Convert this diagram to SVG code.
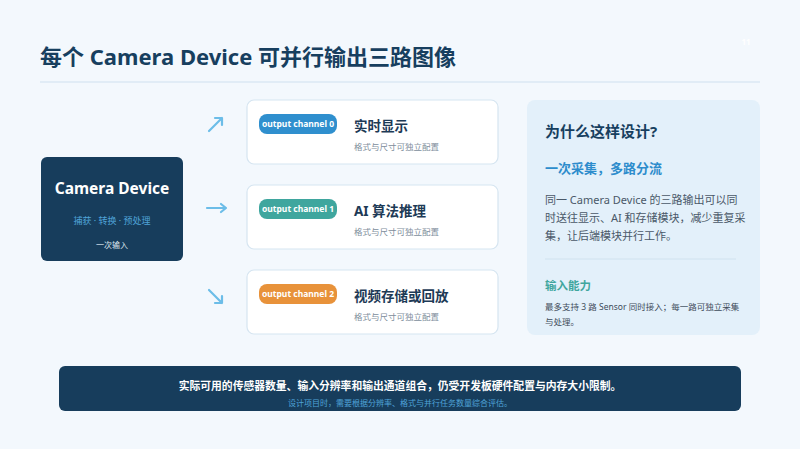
<svg xmlns="http://www.w3.org/2000/svg" width="800" height="449" viewBox="0 0 800 449">
<defs>
<style>
.cjk{font-family:"Noto Sans","Noto Sans CJK SC",sans-serif}
.title{font-size:22px;font-weight:700;fill:#173f5f}
.card{fill:#ffffff;stroke:#d6e5f1;stroke-width:1.2}
.pilltxt{font-size:8.5px;font-weight:700;fill:#ffffff}
.ctitle{font-size:13.5px;font-weight:700;fill:#1d3a56}
.csub{font-size:8.5px;fill:#808e9c}
.arrow{fill:none;stroke:#6cbde8;stroke-width:2.2;stroke-linecap:round;stroke-linejoin:round}
.para{font-size:11px;fill:#4a5868}
</style>
</defs>
<rect x="0" y="0" width="800" height="449" fill="#f3f8fd"/>
<text x="746" y="45" class="cjk" font-size="8" font-weight="700" fill="#ffffff" text-anchor="middle">11</text>
<text x="40" y="65" class="cjk title">每个 Camera Device 可并行输出三路图像</text>
<line x1="40" y1="82" x2="760" y2="82" stroke="#dbe8f3" stroke-width="1.5"/>

<g id="camera-device">
<rect x="41" y="157" width="142" height="104" rx="6" fill="#173d5c"/>
<text x="112" y="194" class="cjk" font-size="15.5" font-weight="700" fill="#ffffff" text-anchor="middle">Camera Device</text>
<text x="112" y="224" class="cjk" font-size="9" fill="#4fa3d8" text-anchor="middle">捕获 · 转换 · 预处理</text>
<text x="112" y="248" class="cjk" font-size="8" fill="#dfe8f0" text-anchor="middle">一次输入</text>
</g>

<g id="connectors">
<path class="arrow" d="M209 131 L222 118 M215 118 L222 118 L222 125"/>
<path class="arrow" d="M207 208 L226 208 M221 204 L226 208 L221 212"/>
<path class="arrow" d="M209 290 L222 303 M215 303 L222 303 L222 296"/>
</g>

<g id="channel-0">
<rect x="247" y="100" width="251" height="64" rx="7" class="card"/>
<rect x="259" y="114" width="78" height="20" rx="8" fill="#2f8fce"/>
<text x="298" y="127" class="cjk pilltxt" text-anchor="middle">output channel 0</text>
<text x="354" y="131" class="cjk ctitle">实时显示</text>
<text x="354" y="150" class="cjk csub">格式与尺寸可独立配置</text>
</g>

<g id="channel-1">
<rect x="247" y="185" width="251" height="64" rx="7" class="card"/>
<rect x="259" y="199" width="78" height="20" rx="8" fill="#3fa69e"/>
<text x="298" y="212" class="cjk pilltxt" text-anchor="middle">output channel 1</text>
<text x="354" y="216" class="cjk ctitle">AI 算法推理</text>
<text x="354" y="235" class="cjk csub">格式与尺寸可独立配置</text>
</g>

<g id="channel-2">
<rect x="247" y="270" width="251" height="64" rx="7" class="card"/>
<rect x="259" y="284" width="78" height="20" rx="8" fill="#e8923a"/>
<text x="298" y="297" class="cjk pilltxt" text-anchor="middle">output channel 2</text>
<text x="354" y="301" class="cjk ctitle">视频存储或回放</text>
<text x="354" y="320" class="cjk csub">格式与尺寸可独立配置</text>
</g>

<g id="why-panel">
<rect x="527" y="100" width="233" height="235" rx="8" fill="#e3f0fa"/>
<text x="545" y="137" class="cjk" font-size="15" font-weight="700" fill="#173f5f">为什么这样设计?</text>
<text x="545" y="173" class="cjk" font-size="13" font-weight="700" fill="#2d8ccc">一次采集，多路分流</text>
<text x="545" y="204" class="cjk para">同一 Camera Device 的三路输出可以同</text>
<text x="545" y="222" class="cjk para">时送往显示、AI 和存储模块，减少重复采</text>
<text x="545" y="240" class="cjk para">集，让后端模块并行工作。</text>
<line x1="545" y1="259" x2="736" y2="259" stroke="#d0e2ef" stroke-width="1"/>
<text x="545" y="290" class="cjk" font-size="11.5" font-weight="700" fill="#3fa69e">输入能力</text>
<text x="545" y="310" class="cjk" font-size="8.5" fill="#3e4c5a">最多支持 3 路 Sensor 同时接入；每一路可独立采集</text>
<text x="545" y="325" class="cjk" font-size="8.5" fill="#3e4c5a">与处理。</text>
</g>

<g id="note-banner">
<rect x="59" y="366" width="682" height="45" rx="6" fill="#173d5c"/>
<text x="400" y="390" class="cjk" font-size="10.8" font-weight="700" fill="#ffffff" text-anchor="middle">实际可用的传感器数量、输入分辨率和输出通道组合，仍受开发板硬件配置与内存大小限制。</text>
<text x="400" y="406" class="cjk" font-size="8" fill="#4fa3d8" text-anchor="middle">设计项目时，需要根据分辨率、格式与并行任务数量综合评估。</text>
</g>
</svg>
